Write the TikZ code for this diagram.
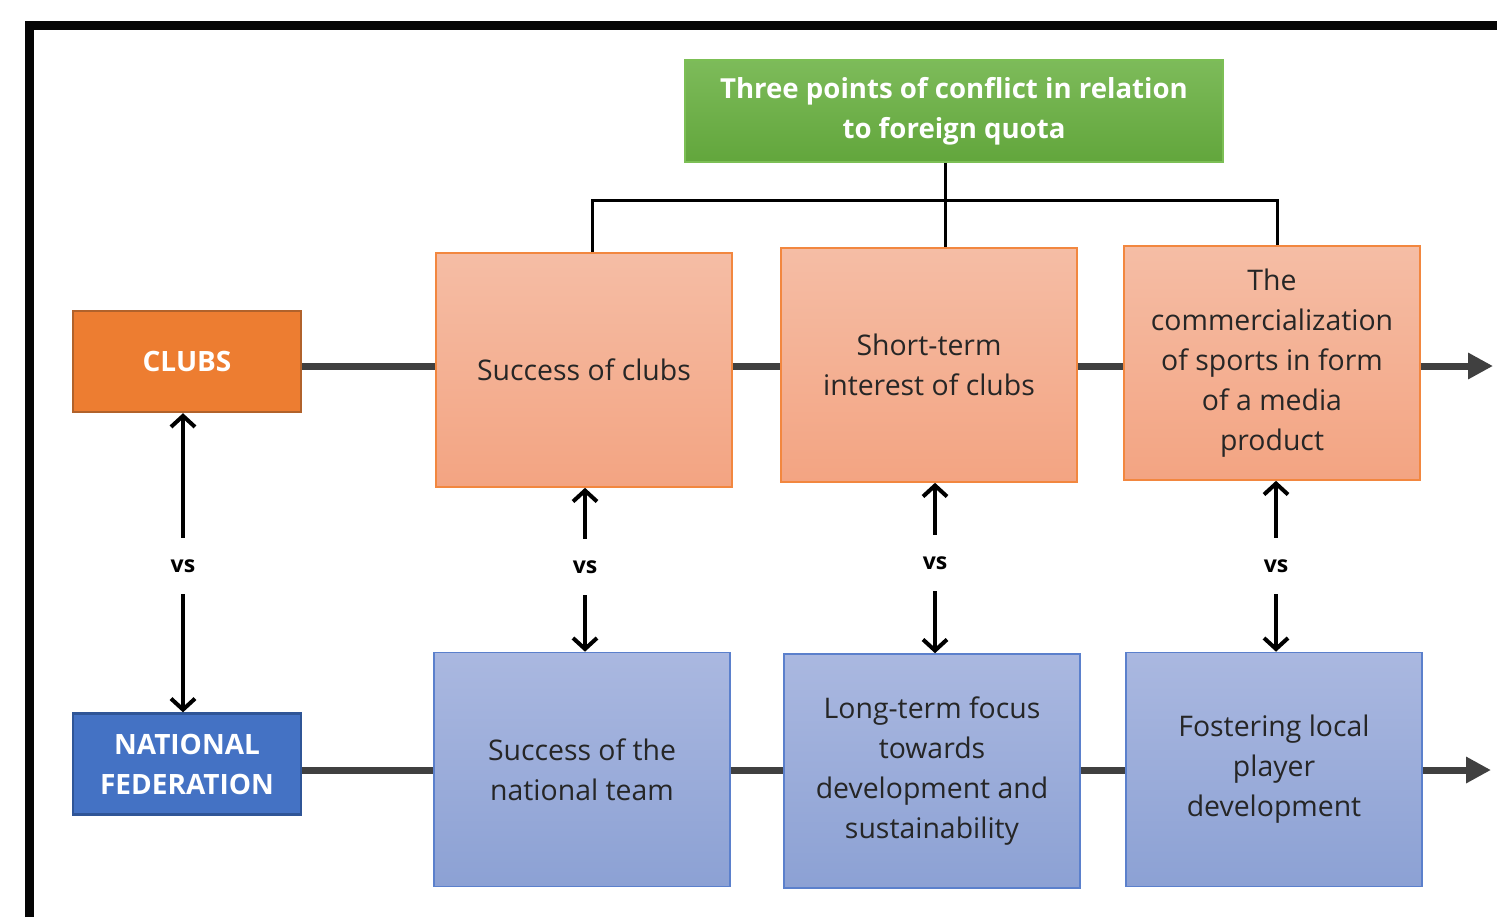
\documentclass[tikz,border=0pt]{standalone}
\usepackage{fontspec}
\setmainfont{Open Sans}
\usetikzlibrary{arrows.meta}
\definecolor{frameblack}{HTML}{050505}
\definecolor{greentop}{HTML}{7DBB5A}
\definecolor{greenbot}{HTML}{62A63C}
\definecolor{greenborder}{HTML}{7CBF55}
\definecolor{clubfill}{HTML}{ED7D31}
\definecolor{clubborder}{HTML}{B1622B}
\definecolor{nffill}{HTML}{4472C4}
\definecolor{nfborder}{HTML}{2F5597}
\definecolor{otop}{HTML}{F5BDA5}
\definecolor{obot}{HTML}{F3A482}
\definecolor{oborder}{HTML}{F2873F}
\definecolor{btop}{HTML}{AAB8E0}
\definecolor{bbot}{HTML}{8CA1D4}
\definecolor{bborder}{HTML}{5B80CC}
\definecolor{txt}{HTML}{262626}
\definecolor{bar}{HTML}{404040}
\tikzset{
  titlebox/.style={draw=greenborder, line width=0.8pt, top color=greentop, bottom color=greenbot,
    minimum width=269pt, minimum height=51pt, align=center, text=white,
    font=\fontsize{13.8}{20}\selectfont\bfseries, inner sep=0pt},
  sidebox/.style={line width=1.2pt, minimum width=114pt, minimum height=50.5pt, align=center,
    text=white, font=\fontsize{14}{20}\selectfont\bfseries, inner sep=0pt},
  topbox/.style={draw=oborder, line width=0.8pt, top color=otop, bottom color=obot,
    minimum width=148pt, minimum height=117pt, align=center, text=txt,
    font=\fontsize{14.2}{20}\selectfont, inner sep=0pt},
  botbox/.style={draw=bborder, line width=0.8pt, top color=btop, bottom color=bbot,
    minimum width=148pt, minimum height=117pt, align=center, text=txt,
    font=\fontsize{14.2}{20}\selectfont, inner sep=0pt},
  vslabel/.style={font=\fontsize{11.5}{12}\selectfont\bfseries, text=black,
    minimum height=28pt, inner sep=0pt},
  vsarrow/.style={line width=2pt, black, -{Straight Barb[length=5.5pt,width=12pt,line width=2pt]}},
  barline/.style={line width=3.5pt, bar},
  bararrow/.style={line width=3.5pt, bar, -{Triangle[length=12.5pt,width=12.5pt]}},
  treeline/.style={line width=1.5pt, black},
}
\begin{document}
\begin{tikzpicture}[x=0.5pt,y=-0.5pt]
\useasboundingbox (0,0) rectangle (1497,917);
% frame
\draw[frameblack, line width=4.5pt] (29.5,917) -- (29.5,25.5) -- (1497,25.5);

% nodes
\node[titlebox] (title) at (954,111) {Three points of conflict in relation\\to foreign quota};
\node[sidebox, draw=clubborder, fill=clubfill] (clubs) at (187,361.5) {CLUBS};
\node[sidebox, draw=nfborder, fill=nffill] (nf) at (187,764) {NATIONAL\\FEDERATION};

\node[topbox] (a1) at (584,370) {Success of clubs};
\node[topbox] (a2) at (929,365) {Short-term\\interest of clubs};
\node[topbox] (a3) at (1272,363) {The\\commercialization\\of sports in form\\of a media\\product};

\node[botbox] (b1) at (582,769.5) {Success of the\\national team};
\node[botbox] (b2) at (932,771) {Long-term focus\\towards\\development and\\sustainability};
\node[botbox] (b3) at (1274,769.5) {Fostering local\\player\\development};

% vs labels
\node[vslabel] (v0) at (183,566) {vs};
\node[vslabel] (v1) at (585,567) {vs};
\node[vslabel] (v2) at (935,563) {vs};
\node[vslabel] (v3) at (1276,566) {vs};

% horizontal bars
\coordinate (ty) at (0,366);
\coordinate (by) at (0,770);
\coordinate (tend) at (1493,366);
\coordinate (bend) at (1491,770);
\draw[barline] (clubs.east |- ty) -- (a1.west |- ty);
\draw[barline] (a1.east |- ty) -- (a2.west |- ty);
\draw[barline] (a2.east |- ty) -- (a3.west |- ty);
\draw[bararrow] (a3.east |- ty) -- (tend);
\draw[barline] (nf.east |- by) -- (b1.west |- by);
\draw[barline] (b1.east |- by) -- (b2.west |- by);
\draw[barline] (b2.east |- by) -- (b3.west |- by);
\draw[bararrow] (b3.east |- by) -- (bend);

% tree
\coordinate (t1) at (592,200);
\coordinate (t2) at (945,200);
\coordinate (t3) at (1277,200);
\draw[treeline] (title.south -| t2) -- (a2.north -| t2);
\draw[treeline] (a1.north -| t1) -- (t1) -- (t3) -- (a3.north -| t3);

% vs arrows
\draw[vsarrow] (v0.north) -- (clubs.south -| v0.north);
\draw[vsarrow] (v0.south) -- (nf.north -| v0.south);
\draw[vsarrow] (v1.north) -- (a1.south -| v1.north);
\draw[vsarrow] (v1.south) -- (b1.north -| v1.south);
\draw[vsarrow] (v2.north) -- (a2.south -| v2.north);
\draw[vsarrow] (v2.south) -- (b2.north -| v2.south);
\draw[vsarrow] (v3.north) -- (a3.south -| v3.north);
\draw[vsarrow] (v3.south) -- (b3.north -| v3.south);
\end{tikzpicture}
\end{document}
